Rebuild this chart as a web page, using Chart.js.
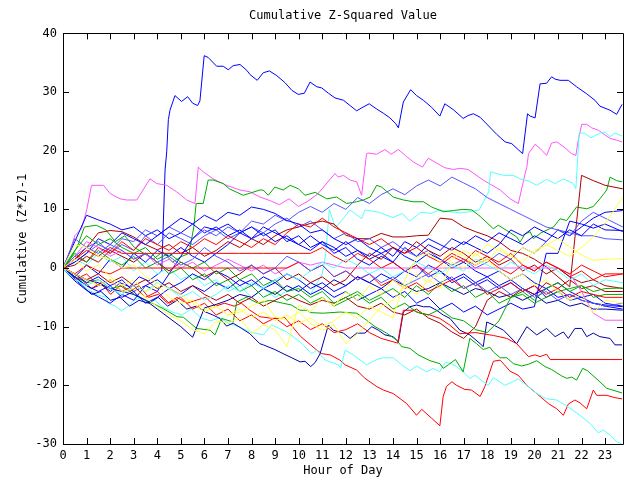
<!DOCTYPE html>
<html><head><meta charset="utf-8">
<script src="https://cdn.jsdelivr.net/npm/chart.js@4.4.0/dist/chart.umd.min.js"></script>
<style>html,body{margin:0;padding:0;background:#fff}#wrap{width:640px;height:480px}</style>
</head><body><div id="wrap"><canvas id="c" width="640" height="480"></canvas></div>
<script>
// ---- categories / ticks ----
const hours = [0,0.5,1,1.5,2,2.5,3,3.5,4,4.5,5,5.5,6,6.5,7,7.5,8,8.5,9,9.5,10,10.5,11,11.5,12,12.5,13,13.5,14,14.5,15,15.5,16,16.5,17,17.5,18,18.5,19,19.5,20,20.5,21,21.5,22,22.5,23,23.75];
const xTickLabels = [0,1,2,3,4,5,6,7,8,9,10,11,12,13,14,15,16,17,18,19,20,21,22,23];
const yTickLabels = [-30,-20,-10,0,10,20,30,40];

// ---- traced series: [hour, value] pairs ----
const blueTop = [[0,0],[0.4,-1.2],[0.81,-2.5],[1.21,-3.5],[1.61,-2.8],[2.02,-4.0],[2.42,-2.5],[2.83,-3.2],[3.23,-1.5],[3.63,-2.2],[4.04,-1.0],[4.19,-0.5],[4.33,16.7],[4.40,19.8],[4.47,25.3],[4.54,26.9],[4.75,29.4],[5.03,28.4],[5.29,29.2],[5.50,28.1],[5.71,27.7],[5.81,28.5],[5.99,36.2],[6.16,35.9],[6.52,34.4],[6.80,34.4],[7.01,33.8],[7.22,34.5],[7.51,34.7],[7.80,33.7],[7.93,33.0],[8.24,32.0],[8.50,33.3],[8.76,33.6],[9.07,32.8],[9.42,31.6],[9.71,30.3],[9.98,29.6],[10.24,29.8],[10.48,31.7],[10.77,30.9],[10.98,30.7],[11.26,29.8],[11.54,29.0],[11.90,28.6],[12.18,27.7],[12.46,26.8],[12.67,27.3],[12.99,28.0],[13.31,27.1],[13.59,26.4],[13.87,25.6],[14.12,24.6],[14.23,23.9],[14.44,28.3],[14.75,30.4],[15.00,29.4],[15.29,28.6],[15.64,27.4],[15.99,25.9],[16.20,28.0],[16.56,27.0],[16.98,25.5],[17.19,26.0],[17.41,26.3],[17.70,25.7],[18.40,22.8],[18.76,21.5],[19.04,21.2],[19.50,19.5],[19.71,26.3],[19.82,25.9],[20.03,25.6],[20.24,31.4],[20.52,31.5],[20.73,32.6],[20.88,32.2],[21.09,32.0],[21.44,32.0],[21.79,30.9],[22.22,29.7],[22.57,28.6],[22.78,27.6],[23.21,26.9],[23.49,26.2],[23.72,27.9]];
const magentaTop = [[0,0],[0.3,3],[0.5,5.5],[0.79,6.7],[1.01,10],[1.21,14.1],[1.72,14.1],[2.0,12.7],[2.42,11.8],[2.7,11.6],[3.13,11.6],[3.69,15.2],[3.98,14.4],[4.40,14.1],[4.82,13.0],[5.25,11.6],[5.6,11.0],[5.74,17.2],[5.95,16.4],[6.37,15.2],[6.94,14.1],[7.51,13.3],[7.93,13.0],[8.36,12.1],[8.78,11.5],[9.18,10.8],[9.59,11.8],[9.99,10.5],[10.39,11.4],[10.80,12.6],[11.20,14.5],[11.54,16.1],[11.68,15.5],[11.90,15.8],[12.18,15.0],[12.46,14.7],[12.67,12.4],[12.88,19.5],[12.95,19.6],[13.31,19.4],[13.66,20.2],[13.92,19.4],[14.23,20.2],[14.58,19.0],[14.86,18.1],[15.25,17.2],[15.50,18.7],[15.85,17.9],[16.20,17.1],[16.56,16.8],[16.85,17.0],[17.19,16.8],[17.83,15.0],[18.55,13.3],[18.97,11.8],[19.32,11.0],[19.60,16.0],[19.68,17.2],[19.75,19.5],[20.03,21.1],[20.24,20.4],[20.52,19.2],[20.73,21.3],[20.95,21.5],[21.30,20.5],[21.58,19.5],[21.76,19.2],[21.86,21.8],[22.01,24.5],[22.22,24.5],[22.43,23.9],[22.71,23.5],[22.92,22.9],[23.21,22.1],[23.49,21.8],[23.72,21.5]];
const cyanTop = [[0,0],[0.5,1.5],[1,0.5],[1.5,2.5],[2,1],[2.5,2],[3,-0.5],[3.5,1],[4,-1],[4.5,0],[5,-2],[5.5,-1],[6,-3],[6.5,-2],[7,-4],[7.5,-3],[8,-5],[8.5,-3.5],[9,-5],[9.5,-4],[10,-3],[10.5,-4.5],[11.0,-1],[11.15,2.5],[11.3,10],[11.54,7.0],[11.7,7.5],[12.18,9.9],[12.67,8.4],[12.81,9.9],[13.4,9.5],[14.0,8.6],[14.4,9.3],[14.7,8.0],[15.2,9.5],[15.6,9.3],[15.99,9.9],[16.42,9.6],[16.84,9.4],[17.25,9.6],[17.66,9.9],[18.06,13.0],[18.14,16.4],[18.69,15.8],[19.11,15.8],[19.39,15.2],[19.78,14.8],[20.10,14.1],[20.52,15.1],[20.88,14.4],[21.23,15.2],[21.65,14.4],[21.76,13.5],[21.90,23.0],[22.12,23.0],[22.40,22.2],[22.78,23.0],[23.0,23.2],[23.21,22.4],[23.42,23.0],[23.72,22.5]];
const greenTop = [[0,0],[0.3,1.5],[0.6,3.6],[0.91,7.0],[1.41,7.3],[1.82,6.5],[2.22,4.5],[2.62,5.5],[3.03,3.5],[3.43,2.5],[3.83,1.5],[4.24,2.8],[4.64,1.0],[5.05,2.0],[5.35,2.5],[5.55,7.0],[5.65,11.0],[5.95,11.0],[6.16,15.0],[6.36,15.0],[6.80,14.4],[7.06,13.5],[7.65,12.4],[8.35,13.3],[8.49,13.3],[8.71,12.4],[8.99,13.8],[9.34,13.3],[9.64,14.1],[9.99,13.5],[10.27,12.4],[10.70,12.9],[11.19,11.8],[11.61,12.1],[12.04,11.0],[12.46,11.3],[12.74,11.6],[13.03,12.1],[13.31,14.1],[13.52,13.8],[14.01,12.1],[14.44,11.6],[14.86,11.3],[15.29,11.3],[15.64,10.4],[16.14,9.6],[16.56,9.8],[16.98,10.0],[17.35,9.9],[17.70,8.8],[18.26,6.7],[18.47,7.3],[18.83,6.4],[19.25,5.3],[19.39,4.4],[19.60,5.8],[19.82,6.2],[19.96,5.0],[20.28,6.0],[20.81,7.0],[21.09,8.4],[21.37,8.1],[21.79,10.4],[22.22,10.1],[22.50,10.5],[22.78,11.8],[23.07,13.3],[23.21,15.5],[23.49,14.9],[23.72,14.7]];
const redBottom = [[0,0],[0.4,-1.5],[0.81,-2.0],[1.21,-3.5],[1.61,-2.5],[2.02,-4.5],[2.42,-3.0],[2.83,-4.0],[3.23,-3.0],[3.63,-5.0],[4.04,-4.5],[4.44,-6.0],[4.84,-5.0],[5.25,-6.0],[5.65,-5.5],[6.05,-5.0],[6.46,-6.5],[6.86,-6.0],[7.26,-6.5],[7.57,-6.0],[7.93,-7.2],[8.35,-8.3],[8.93,-8.6],[9.28,-8.6],[9.38,-8.3],[10.09,-11.7],[10.77,-14.0],[10.98,-14.6],[11.33,-14.8],[11.75,-15.7],[11.97,-16.5],[12.46,-17.4],[12.81,-18.8],[13.31,-20.2],[13.59,-20.8],[14.01,-21.4],[14.58,-23.1],[15.00,-25.1],[15.22,-24.1],[15.64,-25.6],[15.99,-26.9],[16.13,-21.9],[16.27,-20.2],[16.50,-19.4],[16.70,-20.0],[17.05,-20.7],[17.33,-20.8],[17.70,-21.9],[17.90,-20.2],[18.26,-15.9],[18.55,-15.7],[18.97,-17.6],[19.32,-18.3],[19.68,-20.0],[20.10,-21.4],[20.59,-23.1],[20.95,-24.0],[21.23,-25.1],[21.44,-23.2],[21.72,-22.5],[21.94,-23.0],[22.22,-24.0],[22.50,-20.8],[22.64,-21.7],[23.07,-21.7],[23.42,-22.1],[23.72,-22.3]];
const cyanBottom = [[0,0],[0.3,-1.5],[0.71,-2.5],[1.01,-3.5],[1.41,-4.5],[1.82,-5.0],[1.92,-6.0],[2.22,-6.5],[2.49,-7.3],[2.85,-6.2],[2.99,-5.6],[3.3,-5.0],[3.6,-5.8],[3.9,-5.5],[4.2,-6.6],[4.64,-7.5],[5.05,-8.0],[5.45,-7.0],[5.85,-8.5],[6.26,-9.0],[6.66,-8.5],[7.06,-9.5],[7.47,-10.0],[7.93,-10.9],[8.50,-11.4],[8.85,-9.7],[9.49,-10.9],[10.06,-12.6],[10.55,-14.6],[10.77,-14.0],[11.12,-15.7],[11.68,-16.5],[11.78,-17.1],[11.97,-14.0],[12.32,-14.8],[12.88,-16.5],[13.31,-15.6],[13.59,-15.3],[14.01,-15.3],[14.37,-16.5],[14.72,-17.5],[15.00,-16.7],[15.43,-17.7],[15.71,-17.1],[15.99,-17.7],[16.20,-16.1],[16.42,-16.2],[16.70,-16.8],[16.98,-17.7],[17.26,-18.8],[17.48,-18.3],[17.83,-19.4],[18.04,-20.0],[18.26,-18.7],[18.76,-20.0],[19.32,-18.9],[19.68,-20.0],[20.10,-21.4],[20.52,-22.3],[20.95,-22.5],[21.44,-23.7],[21.93,-25.1],[22.36,-26.5],[22.71,-28.1],[22.92,-27.6],[23.21,-28.5],[23.49,-29.6],[23.72,-30]];
const navyLow = [[0,0],[0.4,-1.5],[0.81,-3.0],[1.21,-4.5],[1.61,-4.0],[2.02,-5.5],[2.42,-5.0],[2.83,-6.5],[3.23,-5.5],[3.63,-6.0],[4.04,-5.0],[4.44,-6.5],[4.84,-5.5],[5.25,-7.0],[5.65,-6.5],[6.05,-7.5],[6.36,-8.0],[6.66,-8.6],[6.94,-9.9],[7.22,-9.4],[7.58,-10.3],[7.93,-11.2],[8.35,-12.9],[8.50,-13.1],[8.99,-13.9],[9.34,-14.6],[9.71,-15.3],[10.06,-16.0],[10.27,-15.9],[10.51,-16.8],[10.70,-16.1],[10.91,-14.6],[11.26,-9.7],[11.47,-10.6],[11.90,-11.1],[12.18,-12.0],[12.46,-11.1],[12.81,-11.1],[13.10,-10.0],[13.38,-10.6],[13.66,-11.4],[14.01,-11.7],[14.23,-12.6],[14.44,-7.5],[14.72,-6.6],[15.00,-6.3],[15.29,-6.6],[15.57,-6.6],[15.85,-7.2],[16.13,-8.0],[16.42,-8.6],[16.84,-10.6],[17.26,-11.4],[17.70,-12.9],[17.83,-13.4],[17.98,-9.2],[18.26,-9.7],[18.69,-10.6],[19.25,-12.9],[19.68,-10.0],[20.10,-11.4],[20.52,-10.3],[20.88,-11.7],[21.23,-10.9],[21.44,-12.0],[21.72,-10.3],[22.01,-10.3],[22.22,-11.7],[22.50,-11.1],[22.78,-11.7],[23.21,-12.0],[23.42,-13.1],[23.72,-13.1]];
const redFlat = [[0,0],[0.5,-2],[1,-1],[1.5,-3],[2,-2],[2.5,-4],[3,-3],[3.5,-5],[4,-4],[4.5,-6],[5,-5],[5.5,-7],[6,-6],[6.5,-8],[7,-7],[7.5,-9],[8,-8],[8.5,-9.5],[9,-8.5],[9.5,-10],[10,-9],[10.5,-10.5],[11,-9.5],[11.5,-11],[12,-10.5],[12.5,-9.5],[13,-11],[13.5,-12],[14.2,-12.8],[14.44,-7.2],[14.86,-7.2],[15.14,-7.7],[15.57,-8.0],[15.99,-8.6],[16.4,-9.7],[16.84,-11.2],[17.5,-11.0],[18.26,-11.5],[18.83,-12.0],[19.25,-12.9],[19.75,-15.1],[20.03,-14.8],[20.24,-15.1],[20.52,-14.7],[20.67,-15.6],[23.72,-15.6]];
const greenLow = [[0,0],[0.5,-1.5],[1.01,-2.5],[1.51,-2],[2.02,-3.5],[2.52,-3],[3.03,-4.5],[3.69,-5.8],[4.24,-6.9],[4.84,-8.3],[5.11,-8.4],[5.67,-10.3],[6.24,-10.6],[6.45,-11.4],[6.73,-8.6],[7.22,-9.2],[7.37,-5.8],[7.77,-5.0],[8.27,-6.0],[8.78,-5.5],[9.33,-6.0],[9.69,-6.3],[10.05,-7.2],[10.39,-7.2],[10.48,-7.6],[11.04,-7.7],[11.75,-7.5],[12.46,-7.7],[12.88,-8.9],[13.24,-10.0],[13.73,-11.1],[14.16,-12.3],[14.37,-13.4],[14.72,-13.7],[15.07,-14.8],[15.57,-15.8],[15.99,-16.3],[16.13,-17.1],[16.35,-16.5],[16.65,-15.6],[16.98,-17.7],[17.26,-12.0],[17.55,-12.9],[17.83,-13.9],[18.11,-13.5],[18.26,-14.3],[18.55,-15.3],[18.83,-15.3],[19.11,-16.3],[19.46,-16.7],[19.75,-16.4],[20.10,-15.8],[20.45,-16.8],[20.73,-17.3],[21.16,-18.4],[21.37,-18.8],[21.58,-18.6],[21.79,-19.1],[22.05,-17.1],[22.25,-17.5],[22.70,-19.1],[23.07,-20.5],[23.72,-21.3]];

// ---- bundle series: values at each entry of `hours` ----
const blue1 = [0,4.5,9.0,8.2,7.5,6.5,7.0,5.5, 6.5,5.0,6.0,7.5,6.0,7.0,5.5,6.5, 5.0,6.0,4.5,5.5,4.0,3.0,4.5,3.5, 2.0,3.0,1.5,2.5,1.0,3.5,2.0,4.0, 3.0,5.0,4.0,5.5,4.5,6.0,5.0,4.0, 5.5,4.5,6.5,5.5,7.0,8.5,9.5,9.8];
const slate1 = [0,5.0,3.5,4.5,2.5,4.0,3.0,5.5, 4.0,6.0,5.0,4.0,5.5,6.5,5.0,6.0, 7.0,6.0,7.5,8.5,7.0,8.0,6.5,5.0, 6.0,4.5,5.0,3.5,4.5,3.0,2.0,3.0, 1.5,0.5,1.5,0.0,1.0,2.5,1.5,3.5, 2.5,4.5,6.5,5.5,8.0,9.5,8.5,7.0];
const green1 = [0,3.0,5.5,4.0,5.0,3.5,2.5,3.5, 1.5,2.5,1.0,0.0,1.0,-1.0,0.0,-2.0, -1.0,-3.0,-2.0,-4.0,-3.5,-5.0,-4.0,-6.0, -5.0,-4.0,-5.5,-4.5,-3.5,-5.0,-3.0,-4.5, -2.5,-4.0,-3.0,-5.0,-4.0,-6.0,-5.0,-4.0, -5.5,-3.5,-2.5,-4.0,-3.0,-5.0,-4.5,-4.5];
const red1 = [0,2.0,1.0,3.5,2.5,4.5,3.0,5.0, 4.0,3.0,4.5,3.5,5.0,4.0,5.5,4.5, 3.5,5.0,4.0,6.0,7.5,7.0,8.5,7.0, 6.0,5.0,4.0,5.0,3.5,2.5,3.5,2.0, 1.0,2.5,1.5,0.5,1.5,0.0,-1.0,0.5, -0.5,1.0,0.0,-1.5,-0.5,-2.0,-1.0,-1.0];
const darkred1 = [0,1.5,3.5,6.0,6.4,6.2,5.3,4.0, 3.1,4.0,2.5,3.5,2.0,3.0,4.5,3.5, 5.0,4.0,5.5,6.5,7.0,7.6,8.0,7.5, 5.6,5.0,5.0,5.9,5.3,5.3,5.5,5.6, 8.5,8.3,7.0,6.2,5.5,4.5,3.0,2.5, 1.5,0.2,-1.5,-3.2,15.8,14.9,14.1,13.5];
const navy1 = [0,-1.0,-2.0,-2.5,-3.5,-4.0,-4.5,-5.5, -7.0,-8.5,-10.0,-11.8,-6.8,-6.2,-5.5,-4.5, -5.0,-3.5,-4.5,-3.0,-4.0,-2.5,-3.5,-2.0, -3.0,-1.5,-2.5,-3.5,-2.0,-3.0,-4.0,-3.5, -2.5,-3.5,-4.5,-3.5,-4.0,-5.0,-4.5,-5.5, -4.5,-6.0,-5.5,-6.5,-6.0,-7.0,-7.0,-7.2];
const yellow1 = [0,-1.0,-2.0,-3.0,-2.0,-4.0,-3.5,-5.0, -6.6,-8.0,-9.0,-10.5,-11.2,-9.0,-9.4,-8.5, -11.2,-9.7,-10.5,-13.4,-6.3,-7.5,-5.0,-6.5, -4.0,-5.5,-3.0,-4.5,-2.0,-3.5,-1.0,-2.5, -0.5,1.5,3.0,2.0,4.0,3.0,2.0,3.5, 2.5,4.0,3.0,2.0,3.5,5.3,7.6,12.1];
const yellow2 = [0,1.5,-0.5,0.5,-1.5,-3.0,-2.0,-4.0, -3.0,-5.0,-6.0,-5.5,-7.0,-6.5,-8.0,-7.5, -6.5,-5.5,-8.3,-8.9,-7.5,-9.4,-10.6,-9.7, -12.9,-11.2,-8.9,-6.6,-5.5,-3.0,-4.5,-2.0, -3.5,1.0,0.0,2.5,1.0,3.5,2.0,1.0, 3.0,3.9,5.0,3.6,2.2,1.3,1.5,1.6];
const yellow3 = [0,4.0,3.5,2.0,1.5,0.0,0.5,-1.5, -2.5,-3.5,-4.5,-6.0,-7.5,-6.5,-8.0,-7.0, -8.5,-7.5,-9.0,-8.0,-9.5,-8.5,-10.0,-9.0, -7.5,-8.5,-6.5,-7.5,-8.5,-2.0,1.8,2.5, 1.0,3.0,2.0,0.5,1.5,-0.5,-2.0,-1.0, -3.0,-2.0,-4.0,-5.5,-4.5,-7.7,-5.5,-6.0];
const blue2 = [0,-2.2,-3.8,-4.9,-6.0,-4.5,-5.5,-3.0, -4.0,-1.0,2.0,5.0,7.0,6.5,7.5,6.0, 7.0,5.5,6.5,4.5,5.5,3.5,4.5,2.5, 3.5,1.5,0.5,2.0,1.0,-0.5,0.5,-1.5, -0.5,-2.5,-1.5,-3.0,-2.0,-3.5,-2.5,-4.0, -3.0,-5.0,-4.0,-5.5,-5.0,-6.0,-6.5,-7.0];
const blue3 = [0,-1.5,0.5,-1.0,1.5,0.0,2.5,1.0, 3.0,2.0,3.5,2.0,1.0,2.5,4.0,6.0, 5.0,7.0,6.0,5.0,4.0,5.5,4.0,3.0, 4.5,3.0,2.0,3.5,2.0,4.5,3.5,5.0, 4.0,3.0,4.5,3.5,2.5,4.0,6.5,5.5, 7.0,6.0,5.0,6.5,5.5,7.5,6.5,6.4];
const slate2 = [0,2.0,3.5,2.5,4.0,3.0,1.5,2.5, 1.0,2.0,0.5,1.5,3.5,2.0,1.0,-0.5, 0.5,-1.0,0.0,2.0,1.0,-0.5,0.5,-1.5, -0.5,-2.0,-1.0,-2.5,-1.5,-3.0,-2.0,-1.0, -2.5,-1.5,-3.5,-2.5,-4.0,-3.0,-4.5,-3.5, -5.0,-4.0,-5.5,-4.5,-5.5,-6.0,-6.5,-6.0];
const slate3 = [0,1.0,2.5,4.0,3.0,5.0,4.5,6.5, 5.5,7.0,6.0,5.0,6.5,5.5,7.0,6.0, 8.0,7.5,9.0,8.0,9.5,10.5,9.5,11.0, 10.0,12.0,11.0,12.5,13.5,12.5,14.0,15.0, 14.0,15.5,14.5,13.5,12.0,11.0,10.0,9.0, 8.0,7.0,6.5,6.0,5.5,5.5,5.0,4.8];
const red2 = [0,-1.0,0.5,-0.5,-1.0,0.0,0.0,0.0, 0.0,0.0,0.0,0.0,0.0,0.0,0.0,0.0, 0.0,0.0,0.0,0.0,1.0,-0.5,0.5,-1.5, -0.5,-2.0,-1.0,-3.0,-2.0,-3.5,-2.5,-4.0, -3.0,-2.0,-3.5,-2.5,-4.5,-3.5,-2.5,-4.0, -3.0,-4.5,-3.5,-5.0,-4.0,-4.5,-5.0,-5.0];
const red3 = [0,1.5,3.0,2.0,3.5,2.5,2.5,2.5, 2.5,2.5,2.5,2.5,2.5,2.5,2.5,2.5, 2.5,2.5,2.5,2.5,2.5,2.5,3.5,2.0, 1.0,2.5,1.5,0.0,1.0,-0.5,0.5,-1.0, 0.5,2.0,1.0,3.0,2.0,1.0,2.5,0.5, -0.5,1.0,0.0,-1.0,0.5,-0.5,-1.5,-1.0];
const magenta1 = [0,2.0,4.5,3.5,2.0,3.0,1.5,2.5, 0.5,1.5,0.0,1.0,-0.5,0.5,1.5,0.5, -0.5,0.5,-1.0,0.0,1.0,0.5,1.0,0.5, 0.0,0.0,0.0,0.0,0.0,0.0,0.0,0.0, 0.0,0.0,0.0,0.0,0.0,0.0,0.0,0.0, 0.0,0.0,0.0,-1.0,-4.0,-7.7,-8.9,-8.9];
const darkred2 = [0,-1.0,-2.0,-1.0,-2.5,-1.5,-3.0,-2.0, -3.5,-2.5,-4.0,-3.0,-4.5,-5.5,-4.5,-6.0, -5.0,-6.5,-5.5,-4.5,-5.5,-6.3,-5.5,-6.0, -5.0,-6.5,-7.0,-6.0,-7.5,-8.0,-7.0,-8.5, -9.4,-10.9,-12.0,-10.0,-5.5,-4.0,-5.0,-3.5, -4.5,-2.5,-3.5,-2.0,-3.5,-3.0,-4.0,-4.0];
const darkred3 = [0,0.5,2.0,1.0,3.0,2.0,1.0,2.5, 1.0,-0.5,1.0,0.0,-1.5,-0.5,-2.0,-1.0, 0.5,-1.0,0.0,-2.0,-1.0,-2.5,-1.5,-3.0, -2.0,0.5,2.5,1.5,3.5,2.5,4.5,3.0, 2.0,3.5,2.5,1.0,2.0,0.5,1.5,-0.5, 0.5,-1.0,0.0,-1.5,-2.5,-2.0,-3.0,-3.5];
const blue4 = [0,-1.5,-3.0,-4.0,-3.0,-5.0,-4.0,-6.0, -5.0,-3.5,-4.5,-3.0,-4.0,-2.5,-3.5,-2.0, -3.0,-1.5,-2.5,-1.0,-2.0,-3.5,-2.5,-4.0, -3.0,-1.5,-2.5,-1.0,-2.0,-0.5,-1.5,0.5, -0.5,-2.0,-1.0,-2.5,-1.5,-3.0,-2.0,-3.5, -4.5,-3.5,-5.0,-4.5,-5.5,-6.0,-6.3,-6.6];
const cyan1 = [0,-2.0,-3.0,-2.0,-3.5,-4.5,-3.0,-4.0, -2.5,-3.5,-5.0,-4.0,-5.5,-4.5,-3.0,-4.0, -2.5,-3.5,-2.0,-1.0,-2.0,-0.5,1.0,0.0, 1.5,0.5,-1.0,0.0,-1.5,-0.5,1.0,0.0, -1.0,0.5,-0.5,1.5,0.5,-0.5,1.0,0.0, -1.0,0.5,-0.5,-2.0,-1.0,-3.0,-2.0,-2.5];
const green2 = [0,2.5,1.0,3.0,1.5,0.5,2.0,0.0, 1.0,-1.0,0.0,-2.0,-1.0,-3.0,-2.0,-4.0, -3.0,-5.0,-4.0,-5.5,-4.5,-6.0,-5.0,-6.5, -5.5,-4.5,-6.0,-5.0,-7.0,-6.0,-7.5,-8.0, -7.0,-8.5,-9.0,-10.5,-11.0,-9.0,-5.0,-4.5, -6.0,-5.0,-4.0,-3.5,-3.0,-4.0,-3.5,-3.4];
const blue5 = [0,-1.0,-2.5,-1.5,-3.0,-2.0,-4.0,-3.0, -2.0,-3.5,-2.5,-1.0,-2.0,-0.5,-1.5,-3.0, -2.0,-3.5,-2.5,-4.0,-3.0,-4.5,-3.5,-5.0, -4.0,-5.5,-4.5,-3.5,-5.0,-4.0,-6.0,-5.0, -7.0,-6.0,-7.5,-6.5,-8.0,-7.0,-6.0,-7.0, -6.6,2.5,2.5,8.0,7.5,6.8,7.5,6.2];
const blue6 = [0,1.0,2.5,5.0,4.0,6.0,5.0,4.0, 5.5,7.0,8.5,7.5,9.0,8.0,9.5,9.0, 10.4,10.0,9.3,8.1,7.5,6.0,6.5,5.0, 4.0,5.0,3.5,2.5,3.5,2.0,1.0,2.5, 1.5,0.0,1.0,-0.5,-1.5,-0.5,-2.0,-1.0, -2.5,-3.5,-2.5,-4.0,-5.0,-4.5,-6.0,-6.5];

// ---- colours ----
const C = {blue:'#0000ff', navy:'#0000aa', slate:'#5555ff', magenta:'#ff55ff', cyan:'#55ffff', green:'#00aa00', red:'#ff0000', darkred:'#aa0000', yellow:'#ffff44'};

const gridSeries = [
  [yellow1,C.yellow],[yellow2,C.yellow],[yellow3,C.yellow],
  [cyan1,C.cyan],[slate2,C.slate],[red3,C.red],[red2,C.red],[magenta1,C.magenta],
  [green1,C.green],[green2,C.green],[darkred2,C.darkred],[darkred3,C.darkred],
  [blue4,C.blue],[blue5,C.blue],[blue6,C.blue],[blue2,C.blue],[blue3,C.blue],
  [navy1,C.navy],[red1,C.red],[slate1,C.slate],[slate3,C.slate],[blue1,C.blue],[darkred1,C.darkred]
];
const pairSeries = [
  [redFlat,C.red],[greenLow,C.green],[navyLow,C.navy],[cyanBottom,C.cyan],[redBottom,C.red],
  [greenTop,C.green],[cyanTop,C.cyan],[magentaTop,C.magenta],[blueTop,C.blue]
];

const FONT = '"DejaVu Sans Mono", "Liberation Mono", monospace';
const datasets = [];
gridSeries.forEach(([vals,col]) => datasets.push({
  data: hours.map((h,i)=>({x:h,y:vals[i]})), borderColor: col
}));
pairSeries.forEach(([pts,col]) => datasets.push({
  data: pts.map(p=>({x:p[0],y:p[1]})), borderColor: col
}));
datasets.forEach(d => Object.assign(d, {showLine:true, borderWidth:1, pointRadius:0, tension:0, fill:false}));

const framePlugin = {
  id:'frame',
  afterDatasetsDraw(chart){
    const {ctx, chartArea:a, scales:{x,y}} = chart;
    ctx.save();
    ctx.strokeStyle = '#000'; ctx.lineWidth = 1;
    ctx.beginPath();
    ctx.rect(Math.round(a.left)+0.5, Math.round(a.top)+0.5, Math.round(a.right-a.left), Math.round(a.bottom-a.top));
    xTickLabels.forEach(v => {
      const px = Math.round(x.getPixelForValue(v))+0.5;
      ctx.moveTo(px, a.bottom); ctx.lineTo(px, a.bottom-6);
      ctx.moveTo(px, a.top); ctx.lineTo(px, a.top+6);
    });
    yTickLabels.forEach(v => {
      const py = Math.round(y.getPixelForValue(v))+0.5;
      ctx.moveTo(a.left, py); ctx.lineTo(a.left+6, py);
      ctx.moveTo(a.right, py); ctx.lineTo(a.right-6, py);
    });
    ctx.stroke();
    ctx.restore();
  }
};

new Chart(document.getElementById('c'), {
  type:'scatter',
  data:{datasets},
  options:{
    responsive:false, animation:false, events:[],
    layout:{padding:{top:0,left:0,right:17,bottom:0}},
    plugins:{
      legend:{display:false}, tooltip:{enabled:false},
      title:{display:true, text:'Cumulative Z-Squared Value', fullSize:false, color:'#000',
             font:{family:FONT, size:12, weight:'normal'}, padding:{top:9,bottom:10}}
    },
    scales:{
      x:{type:'linear', min:0, max:23.76,
         afterBuildTicks: s => { s.ticks = xTickLabels.map(v=>({value:v})); },
         afterFit: s => { s.height = 36; },
         ticks:{autoSkip:false, maxRotation:0, padding:5, color:'#000', font:{family:FONT,size:12}, callback:v=>String(v)},
         grid:{display:false, drawTicks:false}, border:{display:false},
         title:{display:true, text:'Hour of Day', color:'#000', font:{family:FONT,size:12}, padding:{top:0,bottom:2}}},
      y:{type:'linear', min:-30, max:40,
         afterBuildTicks: s => { s.ticks = yTickLabels.map(v=>({value:v})); },
         afterFit: s => { s.width = 63; },
         ticks:{padding:6, color:'#000', font:{family:FONT,size:12}, callback:v=>String(v)},
         grid:{display:false, drawTicks:false}, border:{display:false},
         title:{display:true, text:'Cumulative (Z*Z)-1', color:'#000', font:{family:FONT,size:12}, padding:{top:16,bottom:0}}}
    }
  },
  plugins:[framePlugin]
});
</script></body></html>
